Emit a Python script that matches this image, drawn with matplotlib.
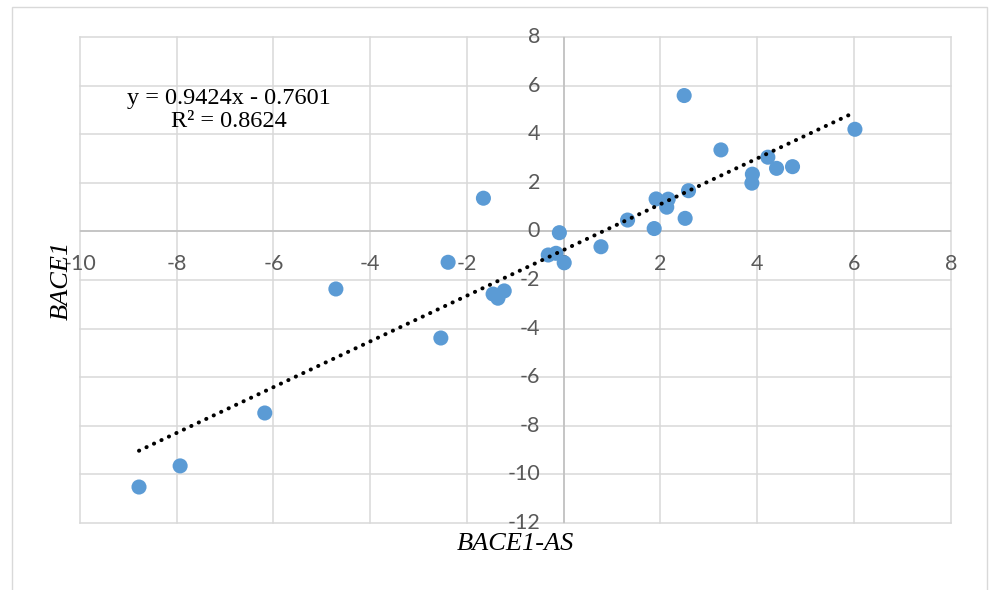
import matplotlib
matplotlib.use("Agg")
import matplotlib.pyplot as plt
from matplotlib.patches import Rectangle
import numpy as np

# ---- data ----
bace1_as = [-8.78, -7.93, -6.18, -4.71, -2.54, -2.39, -1.66, -1.46, -1.36, -1.23,
            -0.32, -0.16, -0.09, 0.01, 0.77, 1.32, 1.87, 1.91, 2.13, 2.16,
            2.49, 2.51, 2.58, 3.25, 3.89, 3.90, 4.22, 4.40, 4.73, 6.02]
bace1 = [-10.53, -9.66, -7.48, -2.37, -4.39, -1.27, 1.37, -2.58, -2.75, -2.45,
         -0.97, -0.90, -0.05, -1.29, -0.63, 0.47, 0.12, 1.34, 1.00, 1.33,
         5.60, 0.54, 1.68, 3.36, 1.99, 2.36, 3.06, 2.60, 2.67, 4.21]
slope = 0.9424
intercept = -0.7601
r_squared = 0.8624
x_ticks = [-10, -8, -6, -4, -2, 0, 2, 4, 6, 8]
y_ticks = [-12, -10, -8, -6, -4, -2, 0, 2, 4, 6, 8]
x_title = "BACE1-AS"
y_title = "BACE1"

W, H = 989, 590
fig = plt.figure(figsize=(W / 100, H / 100), dpi=100)

# outer chart frame
fig.patches.append(Rectangle((11.7 / W, -0.02), (987 - 11.7) / W, (590 - 7) / H + 0.02,
                             transform=fig.transFigure, fill=False,
                             edgecolor="#d9d9d9", linewidth=1.0))

left, right, top, bottom = 80, 950.7, 37.3, 522.7
ax = fig.add_axes([left / W, 1 - bottom / H, (right - left) / W, (bottom - top) / H])
ax.set_xlim(x_ticks[0], x_ticks[-1])
ax.set_ylim(y_ticks[0], y_ticks[-1])
for s in ax.spines.values():
    s.set_visible(False)
ax.set_xticks([])
ax.set_yticks([])

grid_c = "#d9d9d9"
for xv in x_ticks:
    ax.axvline(xv, color=grid_c, lw=1.1, zorder=1, clip_on=False)
for yv in y_ticks:
    ax.axhline(yv, color=grid_c, lw=1.1, zorder=1, clip_on=False)
ax.axvline(0, color="#bfbfbf", lw=1.1, zorder=1.5)
ax.axhline(0, color="#bfbfbf", lw=1.1, zorder=1.5)

tick_font = dict(family="Lato", fontsize=15.5, color="#595959")
for xv in x_ticks:
    ax.annotate(f"{xv}", xy=(xv, 0), xycoords="data", xytext=(0, -23.5),
                textcoords="offset points", ha="center", va="center",
                zorder=2, **tick_font)
for yv in y_ticks:
    ax.annotate(f"{yv}", xy=(0, yv), xycoords="data", xytext=(-17, 0),
                textcoords="offset points", ha="right", va="center",
                zorder=2, **tick_font)

# points
ax.scatter(bace1_as, bace1, s=118, color="#5b9bd5", edgecolors="none", zorder=3)

# trendline
xt = np.array([min(bace1_as), max(bace1_as)])
ax.plot(xt, slope * xt + intercept, color="black", lw=2.9,
        linestyle=(0, (0.05, 2.0)), dash_capstyle="round", zorder=4)

ax.text((228.5 - left) / (right - left), (bottom - 110) / (bottom - top),
        f"y = {slope}x - {abs(intercept)}\nR² = {r_squared}",
        transform=ax.transAxes, ha="center", va="center", multialignment="center",
        family="Liberation Serif", fontsize=17.5, color="black", linespacing=1.12)

fig.text(515 / W, 1 - 544 / H, x_title, family="Liberation Serif", style="italic",
         fontsize=19, ha="center", va="center", color="black")
fig.text(62 / W, 1 - 280 / H, y_title, family="Liberation Serif", style="italic",
         fontsize=19, ha="center", va="center", rotation=90, color="black")

fig.savefig("out.png", dpi=100)
